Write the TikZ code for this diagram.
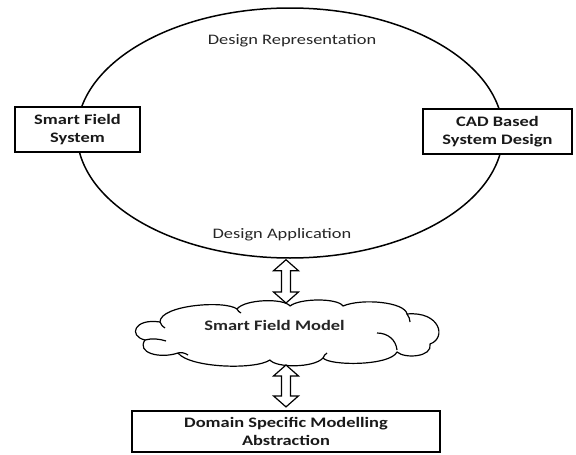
\documentclass[tikz,border=0pt]{standalone}
\usepackage{fontspec}
\setmainfont{Carlito}[FakeStretch=1.27]
\usetikzlibrary{shapes.geometric,calc}

% hollow two-headed vertical arrow between two named points (top first)
\newcommand\hollowarrow[2]{%
  \draw[hollow] let \p1=(#1), \p2=(#2) in
    (\x1,\y1) -- (\x1+12.5pt,\y1-11pt) -- (\x1+4.5pt,\y1-11pt)
    -- (\x1+4.5pt,\y2+11pt) -- (\x1+12.5pt,\y2+11pt) -- (\x1,\y2)
    -- (\x1-12.5pt,\y2+11pt) -- (\x1-4.5pt,\y2+11pt)
    -- (\x1-4.5pt,\y1-11pt) -- (\x1-12.5pt,\y1-11pt) -- cycle;}

\begin{document}
\begin{tikzpicture}[x=1pt,y=-1pt,
  every node/.style={font=\fontsize{14.5}{18.5}\selectfont, align=center, text=black!85},
  box/.style={draw=black, line width=2.2pt, fill=white, inner sep=0pt, text=black!90, font=\fontsize{14.5}{18.5}\selectfont\bfseries},
  ring/.style={draw=black, line width=1.5pt, ellipse, inner sep=0pt},
  cloudline/.style={line width=1.2pt, line join=round},
  hollow/.style={draw=black, line width=1.2pt, fill=white, line join=miter}]
\useasboundingbox (0,0) rectangle (576,455);

% outer design cycle
\node[ring, minimum width=426pt, minimum height=250pt] (ring) at (290,133) {};
\node[anchor=base] (rep) at (292,44) {Design Representation};
\node[anchor=base] (app) at (282,238) {Design Application};

% side boxes sitting on the cycle
\node[box, minimum width=125pt, minimum height=45pt] (sfs) at (77.5,129.5) {Smart Field\\System};
\node[box, minimum width=149pt, minimum height=45pt] (cad) at (497.5,131.5) {CAD Based\\System Design};

% cloud outline, puff by puff
\draw[cloudline, fill=white] (178,353)
  .. controls (160,359) and (136,353) .. (145,340)
  .. controls (128,336) and (134,318) .. (160,322)
  .. controls (160,305) and (225,300) .. (237,309)
  .. controls (245,299) and (284,298) .. (290,306)
  .. controls (300,298) and (338,298) .. (343,306)
  .. controls (362,298) and (405,302) .. (407,314)
  .. controls (440,311) and (447,338) .. (430,344)
  .. controls (433,357) and (405,359) .. (397,352)
  .. controls (390,366) and (330,366) .. (323,358)
  .. controls (314,368) and (276,368) .. (270,360)
  .. controls (255,370) and (190,368) .. (178,353) -- cycle;
% inner strokes of the cloud
\draw[cloudline] (145,340) .. controls (152,338) and (160,339) .. (166,341);
\draw[cloudline] (160,322) .. controls (161,325) and (163,327) .. (165,328);
\draw[cloudline] (178,353) .. controls (181,352) and (185,353) .. (188,355);
\draw[cloudline] (237,309) .. controls (238,311) and (239,312) .. (241,313);
\draw[cloudline] (377,333) .. controls (388,333) and (396,340) .. (397,350);
\draw[cloudline] (407,314) .. controls (409,317) and (410,319) .. (410,322);
\draw[cloudline] (323,358) .. controls (324,356) and (325,354) .. (327,353);
\node[anchor=base, font=\fontsize{14.5}{18.5}\selectfont\bfseries] (model) at (274.5,330) {Smart Field Model};

% bottom box
\node[box, minimum width=308pt, minimum height=41pt] (dsm) at (286,431.5) {Domain Specific Modelling\\Abstraction};

% connectors
\coordinate (u1) at ($(ring.south)+(-4,1)$);
\coordinate (u2) at (286,303);
\coordinate (d1) at (286,365);
\coordinate (d2) at ($(dsm.north)+(0,-3)$);
\hollowarrow{u1}{u2}
\hollowarrow{d1}{d2}
\end{tikzpicture}
\end{document}
